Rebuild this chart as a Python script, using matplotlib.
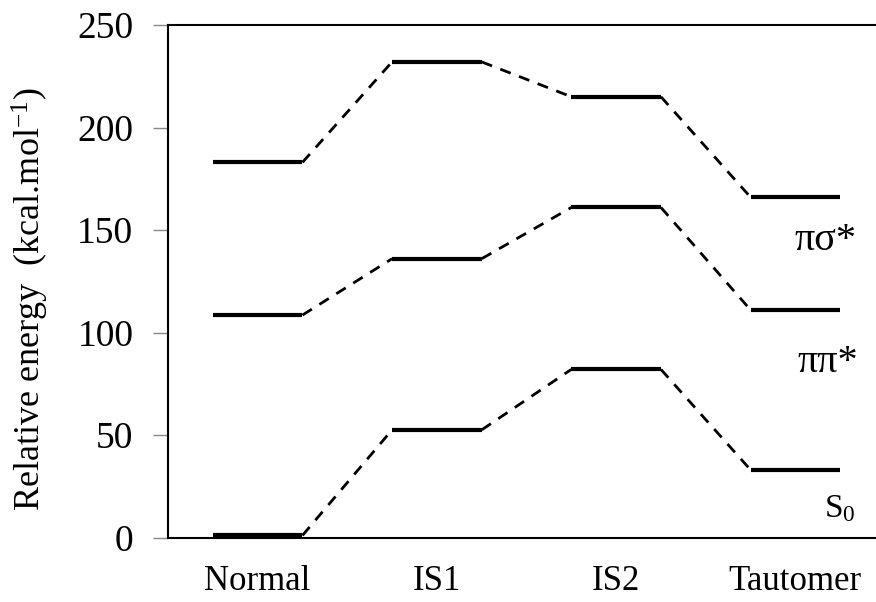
import matplotlib
matplotlib.use("Agg")
import matplotlib.pyplot as plt

categories = ["Normal", "IS1", "IS2", "Tautomer"]
s0 = [1, 52.5, 82, 33]
pipi = [108.5, 136, 161, 111]
pisigma = [183, 232, 215, 166]
state_labels = ["πσ*", "ππ*", r"S$_\mathregular{0}$"]
yticks = [0, 50, 100, 150, 200, 250]

plt.rcParams['font.family'] = ['Liberation Serif', 'DejaVu Serif']
plt.rcParams['mathtext.fontset'] = 'custom'
plt.rcParams['mathtext.rm'] = 'Liberation Serif'
plt.rcParams['mathtext.it'] = 'Liberation Serif'
plt.rcParams['mathtext.sf'] = 'Liberation Serif'

fig = plt.figure(figsize=(8.76, 6.02), dpi=100)
left = 168 / 876
right = 885 / 876
bottom = 1 - 537.5 / 602
top = 1 - 25 / 602
ax = fig.add_axes([left, bottom, right - left, top - bottom])

half = 0.25
for series in (s0, pipi, pisigma):
    for i, v in enumerate(series):
        ax.plot([i - half, i + half], [v, v], color='black', lw=3.0,
                solid_capstyle='butt', clip_on=False, zorder=3)
        if i + 1 < len(series):
            ax.plot([i + half, i + 1 - half], [v, series[i + 1]], color='black',
                    lw=2.0, linestyle=(0, (4, 3.2)), clip_on=False, zorder=3)

ax.set_xlim(-0.5, 3.5)
ax.set_ylim(0, 250)
ax.set_yticks(yticks)
ax.set_yticklabels([str(t) for t in yticks], fontsize=27)
ax.set_xticks(range(len(categories)))
ax.set_xticklabels(categories, fontsize=25)
ax.tick_params(axis='x', length=0, pad=20)
ax.tick_params(axis='y', direction='out', length=11, width=1, color='#888888', pad=14)
for s in ['left', 'top', 'bottom', 'right']:
    ax.spines[s].set_linewidth(1.5)
    ax.spines[s].set_color('black')

ax.set_ylabel("Relative energy  (kcal.mol$^{\\mathregular{-1}}$)", fontsize=26,
              va='center', ha='center')
ax.yaxis.set_label_coords(-0.192, 0.465)

ax.text(3.17, 145, state_labels[0], fontsize=29, ha='center', va='center')
ax.text(3.18, 85.5, state_labels[1], fontsize=29, ha='center', va='center')
ax.text(3.25, 14, state_labels[2], fontsize=24, ha='center', va='center')

fig.savefig("out.png", dpi=100)
